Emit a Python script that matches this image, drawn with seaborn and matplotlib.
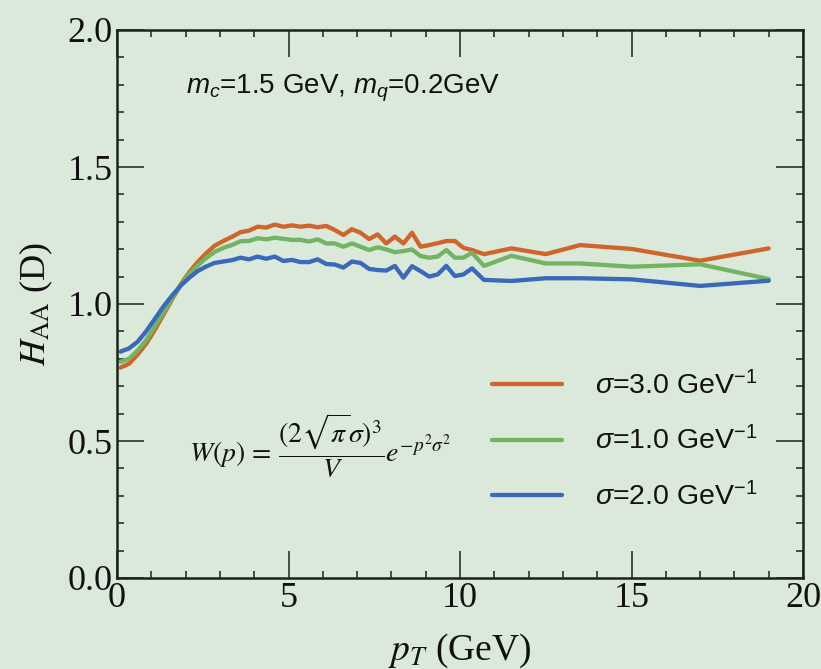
import matplotlib
matplotlib.use("Agg")
import matplotlib.pyplot as plt
import numpy as np
import pandas as pd
import seaborn as sns
from matplotlib.font_manager import FontProperties
from matplotlib.ticker import MultipleLocator

# ---------------- data ----------------
pt = [0.1, 0.35, 0.6, 0.85, 1.1, 1.35, 1.6, 1.85, 2.1, 2.35, 2.6, 2.85,
      3.1, 3.35, 3.6, 3.85, 4.1, 4.35, 4.6, 4.85, 5.1, 5.35, 5.6, 5.85,
      6.1, 6.35, 6.6, 6.85, 7.1, 7.35, 7.6, 7.85, 8.1, 8.35, 8.6, 8.85,
      9.1, 9.35, 9.6, 9.85, 10.1, 10.35, 10.7, 11.5, 12.5, 13.5, 15.0,
      17.0, 19.0]

h_sigma3 = [0.768, 0.782, 0.815, 0.855, 0.905, 0.960, 1.015, 1.070, 1.115,
            1.153, 1.185, 1.213, 1.230, 1.245, 1.262, 1.268, 1.282, 1.279,
            1.290, 1.282, 1.287, 1.282, 1.286, 1.280, 1.285, 1.270, 1.252,
            1.273, 1.260, 1.237, 1.254, 1.221, 1.246, 1.221, 1.260, 1.209,
            1.215, 1.222, 1.230, 1.230, 1.205, 1.197, 1.182, 1.203, 1.182,
            1.215, 1.201, 1.158, 1.203]

h_sigma1 = [0.789, 0.800, 0.830, 0.868, 0.918, 0.968, 1.019, 1.067, 1.108,
            1.140, 1.168, 1.190, 1.205, 1.215, 1.229, 1.230, 1.240, 1.236,
            1.242, 1.238, 1.234, 1.234, 1.228, 1.236, 1.221, 1.221, 1.209,
            1.221, 1.209, 1.197, 1.207, 1.199, 1.189, 1.193, 1.199, 1.175,
            1.169, 1.173, 1.197, 1.169, 1.169, 1.187, 1.139, 1.176, 1.148,
            1.148, 1.136, 1.145, 1.091]

h_sigma2 = [0.826, 0.838, 0.862, 0.900, 0.945, 0.990, 1.030, 1.066, 1.095,
            1.120, 1.137, 1.150, 1.155, 1.160, 1.169, 1.163, 1.173, 1.165,
            1.173, 1.157, 1.161, 1.153, 1.153, 1.163, 1.146, 1.144, 1.133,
            1.155, 1.150, 1.128, 1.124, 1.122, 1.139, 1.096, 1.138, 1.120,
            1.100, 1.108, 1.139, 1.102, 1.108, 1.130, 1.088, 1.084, 1.094,
            1.094, 1.090, 1.066, 1.085]

series_labels = [r"$\sigma$=3.0 GeV$^{-1}$",
                 r"$\sigma$=1.0 GeV$^{-1}$",
                 r"$\sigma$=2.0 GeV$^{-1}$"]
series_colors = ["#cf652d", "#72b462", "#3a68ba"]

x_ticks = [0, 5, 10, 15, 20]
y_ticks = [0.0, 0.5, 1.0, 1.5, 2.0]

# ---------------- frame ----------------
rows = []
for lab, vals in zip(series_labels, [h_sigma3, h_sigma1, h_sigma2]):
    for x, y in zip(pt, vals):
        rows.append({"pt": x, "H": y, "series": lab})
df = pd.DataFrame(rows)

sns.set_theme(style="ticks")
BG = "#dae9d9"
INK = "#1a241a"
plt.rcParams["font.family"] = ["Liberation Serif", "DejaVu Serif"]
plt.rcParams["mathtext.fontset"] = "stix"
plt.rcParams["mathtext.rm"] = "Liberation Sans"
plt.rcParams["mathtext.it"] = "Liberation Sans:italic"
plt.rcParams["mathtext.bf"] = "Liberation Sans:bold"

fig = plt.figure(figsize=(8.21, 6.69), dpi=100, facecolor=BG)
ax = fig.add_axes([117 / 821, 1 - 578 / 669, (803 - 117) / 821, (578 - 30) / 669])
ax.set_facecolor(BG)

sns.lineplot(data=df, x="pt", y="H", hue="series", hue_order=series_labels,
             palette=series_colors, linewidth=3.1, sort=False, estimator=None,
             legend=False, ax=ax)

ax.set_xlim(0, 20)
ax.set_ylim(0, 2.0)
ax.set_xticks(x_ticks)
ax.set_yticks(y_ticks)
ax.xaxis.set_minor_locator(MultipleLocator(1))
ax.yaxis.set_minor_locator(MultipleLocator(0.1))
ax.set_yticklabels([f"{v:.1f}" for v in y_ticks])
ax.set_xticklabels([str(v) for v in x_ticks])

for s in ax.spines.values():
    s.set_linewidth(1.8)
    s.set_color(INK)
ax.tick_params(which="both", direction="in", top=True, right=True, color=INK,
               labelcolor="#111111")
ax.tick_params(which="major", length=19.5, width=1.1, labelsize=26, pad=3)
ax.tick_params(which="minor", length=5, width=1.1)
for lab in ax.get_xticklabels() + ax.get_yticklabels():
    lab.set_fontfamily("Liberation Serif")

ax.set_xlabel(r"$p_T$ (GeV)", fontsize=27, labelpad=12, color="#111111",
              math_fontfamily="stix")
ax.set_ylabel(r"$H_{\rm AA}$ (D)", fontsize=26, labelpad=9, color="#111111",
              math_fontfamily="stix")

# annotation
fig.text(186 / 821, 1 - 93 / 669, r"$m_c$=1.5 GeV, $m_q$=0.2GeV",
         fontfamily="Liberation Sans", fontsize=20, color="#111111",
         math_fontfamily="custom", ha="left", va="baseline")

# formula
fig.text(320 / 821, 1 - 446 / 669,
         r"$W(p)\/=\/\dfrac{(2\sqrt{\pi}\sigma)^3}{V}e^{-p^2\sigma^2}$",
         fontsize=20, color="#111111", math_fontfamily="stix",
         ha="center", va="center")

# legend
handles = ax.lines[:3]
prop = FontProperties(family="Liberation Sans", size=20.5, math_fontfamily="custom")
leg = ax.legend(handles, series_labels, prop=prop, frameon=False,
                handlelength=2.45, handletextpad=1.15, labelspacing=0.92,
                loc="upper left", bbox_to_anchor=(492 / 821, 1 - 371 / 669),
                bbox_transform=fig.transFigure, borderpad=0, borderaxespad=0)
for t in leg.get_texts():
    t.set_color("#111111")

fig.savefig("out.png", dpi=100, facecolor=BG)
